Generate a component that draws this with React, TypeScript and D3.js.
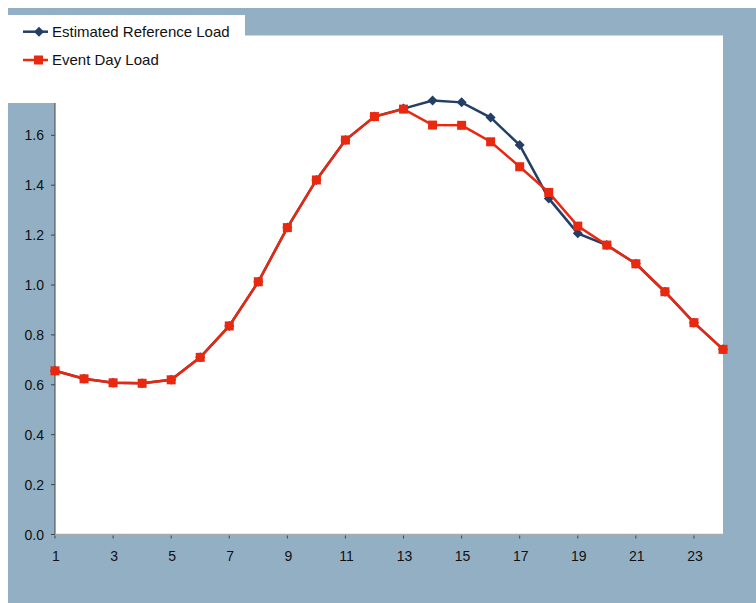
import React from "react";
import * as d3 from "d3";

const hours = [1, 2, 3, 4, 5, 6, 7, 8, 9, 10, 11, 12, 13, 14, 15, 16, 17, 18, 19, 20, 21, 22, 23, 24];
const referenceLoad = [0.656, 0.624, 0.608, 0.606, 0.620, 0.710, 0.836, 1.013, 1.230, 1.421, 1.581, 1.675, 1.707, 1.739, 1.732, 1.671, 1.561, 1.347, 1.207, 1.160, 1.085, 0.973, 0.849, 0.742];
const eventDayLoad = [0.656, 0.624, 0.608, 0.606, 0.620, 0.710, 0.836, 1.013, 1.230, 1.421, 1.581, 1.675, 1.705, 1.641, 1.640, 1.574, 1.474, 1.371, 1.236, 1.160, 1.085, 0.973, 0.849, 0.742];
const yTicks = [0, 0.2, 0.4, 0.6, 0.8, 1.0, 1.2, 1.4, 1.6, 1.8, 2.0];
const xTicks = [1, 3, 5, 7, 9, 11, 13, 15, 17, 19, 21, 23];
const seriesNames = ["Estimated Reference Load", "Event Day Load"];

const W = 748;
const H = 595;
const BG = "#93AFC3";
const BLUE = "#243F66";
const RED = "#EA2810";
const FONT = "'Liberation Sans', Arial, sans-serif";

export default function App() {
  const x = d3.scaleLinear().domain([1, 24]).range([47, 715]);
  const y = d3.scaleLinear().domain([0, 2]).range([526.5, 27.5]);
  const line = d3
    .line<[number, number]>()
    .x((d) => x(d[0]))
    .y((d) => y(d[1]));
  const refPts: [number, number][] = hours.map((h, i) => [h, referenceLoad[i]]);
  const evPts: [number, number][] = hours.map((h, i) => [h, eventDayLoad[i]]);
  const diamond = (cx: number, cy: number, r: number) =>
    `M${cx},${cy - r}L${cx + r},${cy}L${cx},${cy + r}L${cx - r},${cy}Z`;

  return (
    <svg
      width={W}
      height={H}
      style={{ position: "absolute", left: 8, top: 8, display: "block" }}
    >
      <rect x={0} y={0} width={W} height={H} fill={BG} />
      <rect x={x(1)} y={y(2)} width={x(24) - x(1)} height={y(0) - y(2)} fill="#fff" />
      {/* y axis */}
      <line x1={x(1)} x2={x(1)} y1={y(0)} y2={y(2)} stroke="#444" strokeWidth={1} />
      {yTicks.map((t) => (
        <g key={"y" + t}>
          <line x1={x(1) - 4} x2={x(1)} y1={y(t)} y2={y(t)} stroke="#444" />
          <text
            x={x(1) - 11}
            y={y(t)}
            textAnchor="end"
            dominantBaseline="central"
            fontFamily={FONT}
            fontSize={14}
            fill="#111"
          >
            {t.toFixed(1)}
          </text>
        </g>
      ))}
      {/* x axis */}
      <line x1={x(1)} x2={x(24)} y1={y(0)} y2={y(0)} stroke="#aaa" strokeWidth={1.5} />
      {xTicks.map((t) => (
        <g key={"x" + t}>
          <line x1={x(t)} x2={x(t)} y1={y(0) + 1} y2={y(0) + 4} stroke="#444" />
          <text
            x={x(t) + 1}
            y={y(0) + 26}
            textAnchor="middle"
            fontFamily={FONT}
            fontSize={14}
            fill="#111"
          >
            {t}
          </text>
        </g>
      ))}
      {/* series */}
      <path d={line(refPts) || ""} fill="none" stroke={BLUE} strokeWidth={2.5} />
      {refPts.map((p, i) => (
        <path key={"r" + i} d={diamond(x(p[0]), y(p[1]), 5)} fill={BLUE} />
      ))}
      <path d={line(evPts) || ""} fill="none" stroke={RED} strokeWidth={2.5} />
      {evPts.map((p, i) => (
        <rect key={"e" + i} x={x(p[0]) - 4.5} y={y(p[1]) - 4.5} width={9} height={9} fill={RED} />
      ))}
      {/* legend */}
      <rect x={0} y={7} width={237} height={88} fill="#fff" />
      <g>
        <line x1={15} x2={40} y1={23.7} y2={23.7} stroke={BLUE} strokeWidth={2.5} />
        <path d={diamond(31, 23.7, 5)} fill={BLUE} />
        <text x={44} y={28.7} fontFamily={FONT} fontSize={15} fill="#111">
          {seriesNames[0]}
        </text>
        <line x1={15} x2={40} y1={52} y2={52} stroke={RED} strokeWidth={2.5} />
        <rect x={26} y={47.5} width={9} height={9} fill={RED} />
        <text x={44} y={57} fontFamily={FONT} fontSize={15} fill="#111">
          {seriesNames[1]}
        </text>
      </g>
    </svg>
  );
}
